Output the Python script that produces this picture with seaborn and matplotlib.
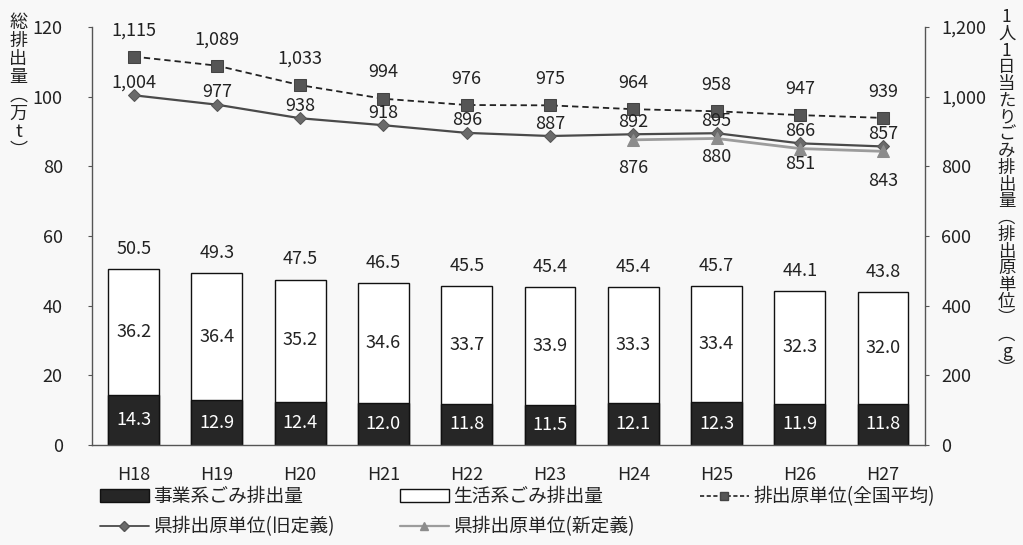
import matplotlib
matplotlib.use("Agg")
import matplotlib.pyplot as plt
import seaborn as sns
import pandas as pd
import numpy as np
from matplotlib.patches import Patch
from matplotlib.lines import Line2D

# ---------------- data ----------------
years = ["H18", "H19", "H20", "H21", "H22", "H23", "H24", "H25", "H26", "H27"]
business = [14.3, 12.9, 12.4, 12.0, 11.8, 11.5, 12.1, 12.3, 11.9, 11.8]
household = [36.2, 36.4, 35.2, 34.6, 33.7, 33.9, 33.3, 33.4, 32.3, 32.0]
totals = [50.5, 49.3, 47.5, 46.5, 45.5, 45.4, 45.4, 45.7, 44.1, 43.8]
national_unit = [1115, 1089, 1033, 994, 976, 975, 964, 958, 947, 939]
pref_old_unit = [1004, 977, 938, 918, 896, 887, 892, 895, 866, 857]
new_years = ["H24", "H25", "H26", "H27"]
pref_new_unit = [876, 880, 851, 843]

left_ticks = [0, 20, 40, 60, 80, 100, 120]
right_ticks = [0, 200, 400, 600, 800, 1000, 1200]

# ---------------- style ----------------
sns.set_style("white")
plt.rcParams["font.family"] = ["Noto Sans CJK JP", "DejaVu Sans"]
BG = "#f8f8f8"

fig = plt.figure(figsize=(10.23, 5.45), dpi=100, facecolor=BG)
ax = fig.add_axes([0.0899, 0.1835, 0.814, 0.767])
ax.set_facecolor(BG)

df = pd.DataFrame({"year": years, "business": business,
                   "household": household, "total": totals})
pos = {y: i for i, y in enumerate(years)}
df["x"] = [pos[y] for y in years]

# stacked bars: total (white) then business (dark) over it
sns.barplot(data=df, x="year", y="total", color="white", edgecolor="#111111",
            linewidth=1.0, width=0.61, saturation=1, ax=ax)
sns.barplot(data=df, x="year", y="business", color="#262626", edgecolor="#111111",
            linewidth=1.0, width=0.61, saturation=1, ax=ax)

tot_cont, biz_cont = ax.containers[0], ax.containers[1]
ax.bar_label(tot_cont, labels=[f"{v:.1f}" for v in totals], padding=8,
             fontsize=13, color="#222222")
ax.bar_label(biz_cont, labels=[f"{v:.1f}" for v in business], label_type="center",
             fontsize=13, color="white")
for i, (b, h) in enumerate(zip(business, household)):
    ax.text(i, b + h / 2, f"{h:.1f}", ha="center", va="center",
            fontsize=13, color="#222222")

ax.set_ylim(0, 120)
ax.set_yticks(left_ticks)
ax.set_xlabel("")
ax.set_ylabel("")

# right axis lines
ax2 = ax.twinx()
ldf = pd.DataFrame({"x": df["x"], "nat": national_unit, "old": pref_old_unit})
ndf = pd.DataFrame({"x": [pos[y] for y in new_years], "new": pref_new_unit})

sns.lineplot(data=ldf, x="x", y="nat", ax=ax2, color="#222222", linewidth=1.3,
             linestyle=(0, (3.5, 2.2)), marker="s", markersize=9,
             markerfacecolor="#555555", markeredgecolor="#444444", legend=False)
sns.lineplot(data=ldf, x="x", y="old", ax=ax2, color="#4a4a4a", linewidth=1.6,
             marker="D", markersize=6.5, markerfacecolor="#6a6a6a",
             markeredgecolor="#555555", legend=False)
sns.lineplot(data=ndf, x="x", y="new", ax=ax2, color="#9c9c9c", linewidth=2.0,
             marker="^", markersize=8, markerfacecolor="#8c8c8c",
             markeredgecolor="#8c8c8c", legend=False)

ax2.set_ylim(0, 1200)
ax2.set_yticks(right_ticks)
ax2.set_yticklabels([f"{v:,}" for v in right_ticks])
ax2.set_ylabel("")
ax2.set_xlabel("")

for i, v in enumerate(national_unit):
    ax2.annotate(f"{v:,}", (i, v), xytext=(0, 19), textcoords="offset points",
                 ha="center", va="center", fontsize=13, color="#222222")
for i, v in enumerate(pref_old_unit):
    ax2.annotate(f"{v:,}", (i, v), xytext=(0, 9), textcoords="offset points",
                 ha="center", va="center", fontsize=13, color="#222222")
new_offsets = [-20, -13, -11, -21]
for y, v, off in zip(new_years, pref_new_unit, new_offsets):
    ax2.annotate(f"{v:,}", (pos[y], v), xytext=(0, off), textcoords="offset points",
                 ha="center", va="center", fontsize=13, color="#222222")

ax.set_xlim(-0.5, len(years) - 0.5)
ax2.set_xlim(-0.5, len(years) - 0.5)

# spines / ticks
for a in (ax, ax2):
    a.spines["top"].set_visible(False)
    for s in ("left", "right", "bottom"):
        a.spines[s].set_color("#555555")
        a.spines[s].set_linewidth(1.0)
ax.spines["right"].set_visible(False)
ax2.spines["left"].set_visible(False)
ax2.spines["bottom"].set_visible(False)

ax.set_xticks(range(len(years)))
ax.set_xticklabels(years)
ax.set_xticks(np.arange(0.5, len(years) - 1, 1.0), minor=True)
ax.tick_params(axis="x", which="major", length=0, pad=15, labelsize=13,
               labelcolor="#222222")
ax.tick_params(axis="x", which="minor", length=4, color="#555555", direction="out")
ax.tick_params(axis="y", length=3, color="#555555", labelsize=13, pad=18,
               labelcolor="#222222", left=True)
ax2.tick_params(axis="y", length=3, color="#555555", labelsize=13, pad=9,
                labelcolor="#222222", right=True)

# axis titles (vertical Japanese)
left_title = "総排出量︵万t︶"
fig.text(0.018, 0.975, "\n".join(left_title), ha="center", va="top",
         fontsize=13, linespacing=1.02, color="#222222")
right_title = "1人1日当たりごみ排出量︵排出原単位︶︵g︶"
fig.text(0.984, 0.985, "\n".join(right_title), ha="center", va="top",
         fontsize=12.5, linespacing=0.91, color="#222222")

# legend in three columns
h_biz = Patch(facecolor="#262626", edgecolor="#111111")
h_hh = Patch(facecolor="white", edgecolor="#111111")
h_nat = Line2D([], [], color="#222222", linewidth=1.2, linestyle=(0, (2.5, 1.5)),
               marker="s", markersize=6, markerfacecolor="#555555",
               markeredgecolor="#444444")
h_old = Line2D([], [], color="#4a4a4a", linewidth=1.3, marker="D", markersize=5,
               markerfacecolor="#6a6a6a", markeredgecolor="#555555")
h_new = Line2D([], [], color="#9c9c9c", linewidth=1.6, marker="^", markersize=6,
               markerfacecolor="#8c8c8c", markeredgecolor="#8c8c8c")

leg_kw = dict(loc="upper left", frameon=False, fontsize=13.5, borderpad=0,
              borderaxespad=0, handlelength=2.6, handleheight=0.65,
              handletextpad=0.25, labelspacing=0.5, labelcolor="#222222")
fig.legend([h_biz, h_old], ["事業系ごみ排出量", "県排出原単位(旧定義)"],
           bbox_to_anchor=(100 / 1023, 1 - 486 / 545), **leg_kw)
fig.legend([h_hh, h_new], ["生活系ごみ排出量", "県排出原単位(新定義)"],
           bbox_to_anchor=(400 / 1023, 1 - 486 / 545), **leg_kw)
fig.legend([h_nat], ["排出原単位(全国平均)"],
           bbox_to_anchor=(700 / 1023, 1 - 486 / 545), **leg_kw)

fig.savefig("out.png", dpi=100, facecolor=BG)
